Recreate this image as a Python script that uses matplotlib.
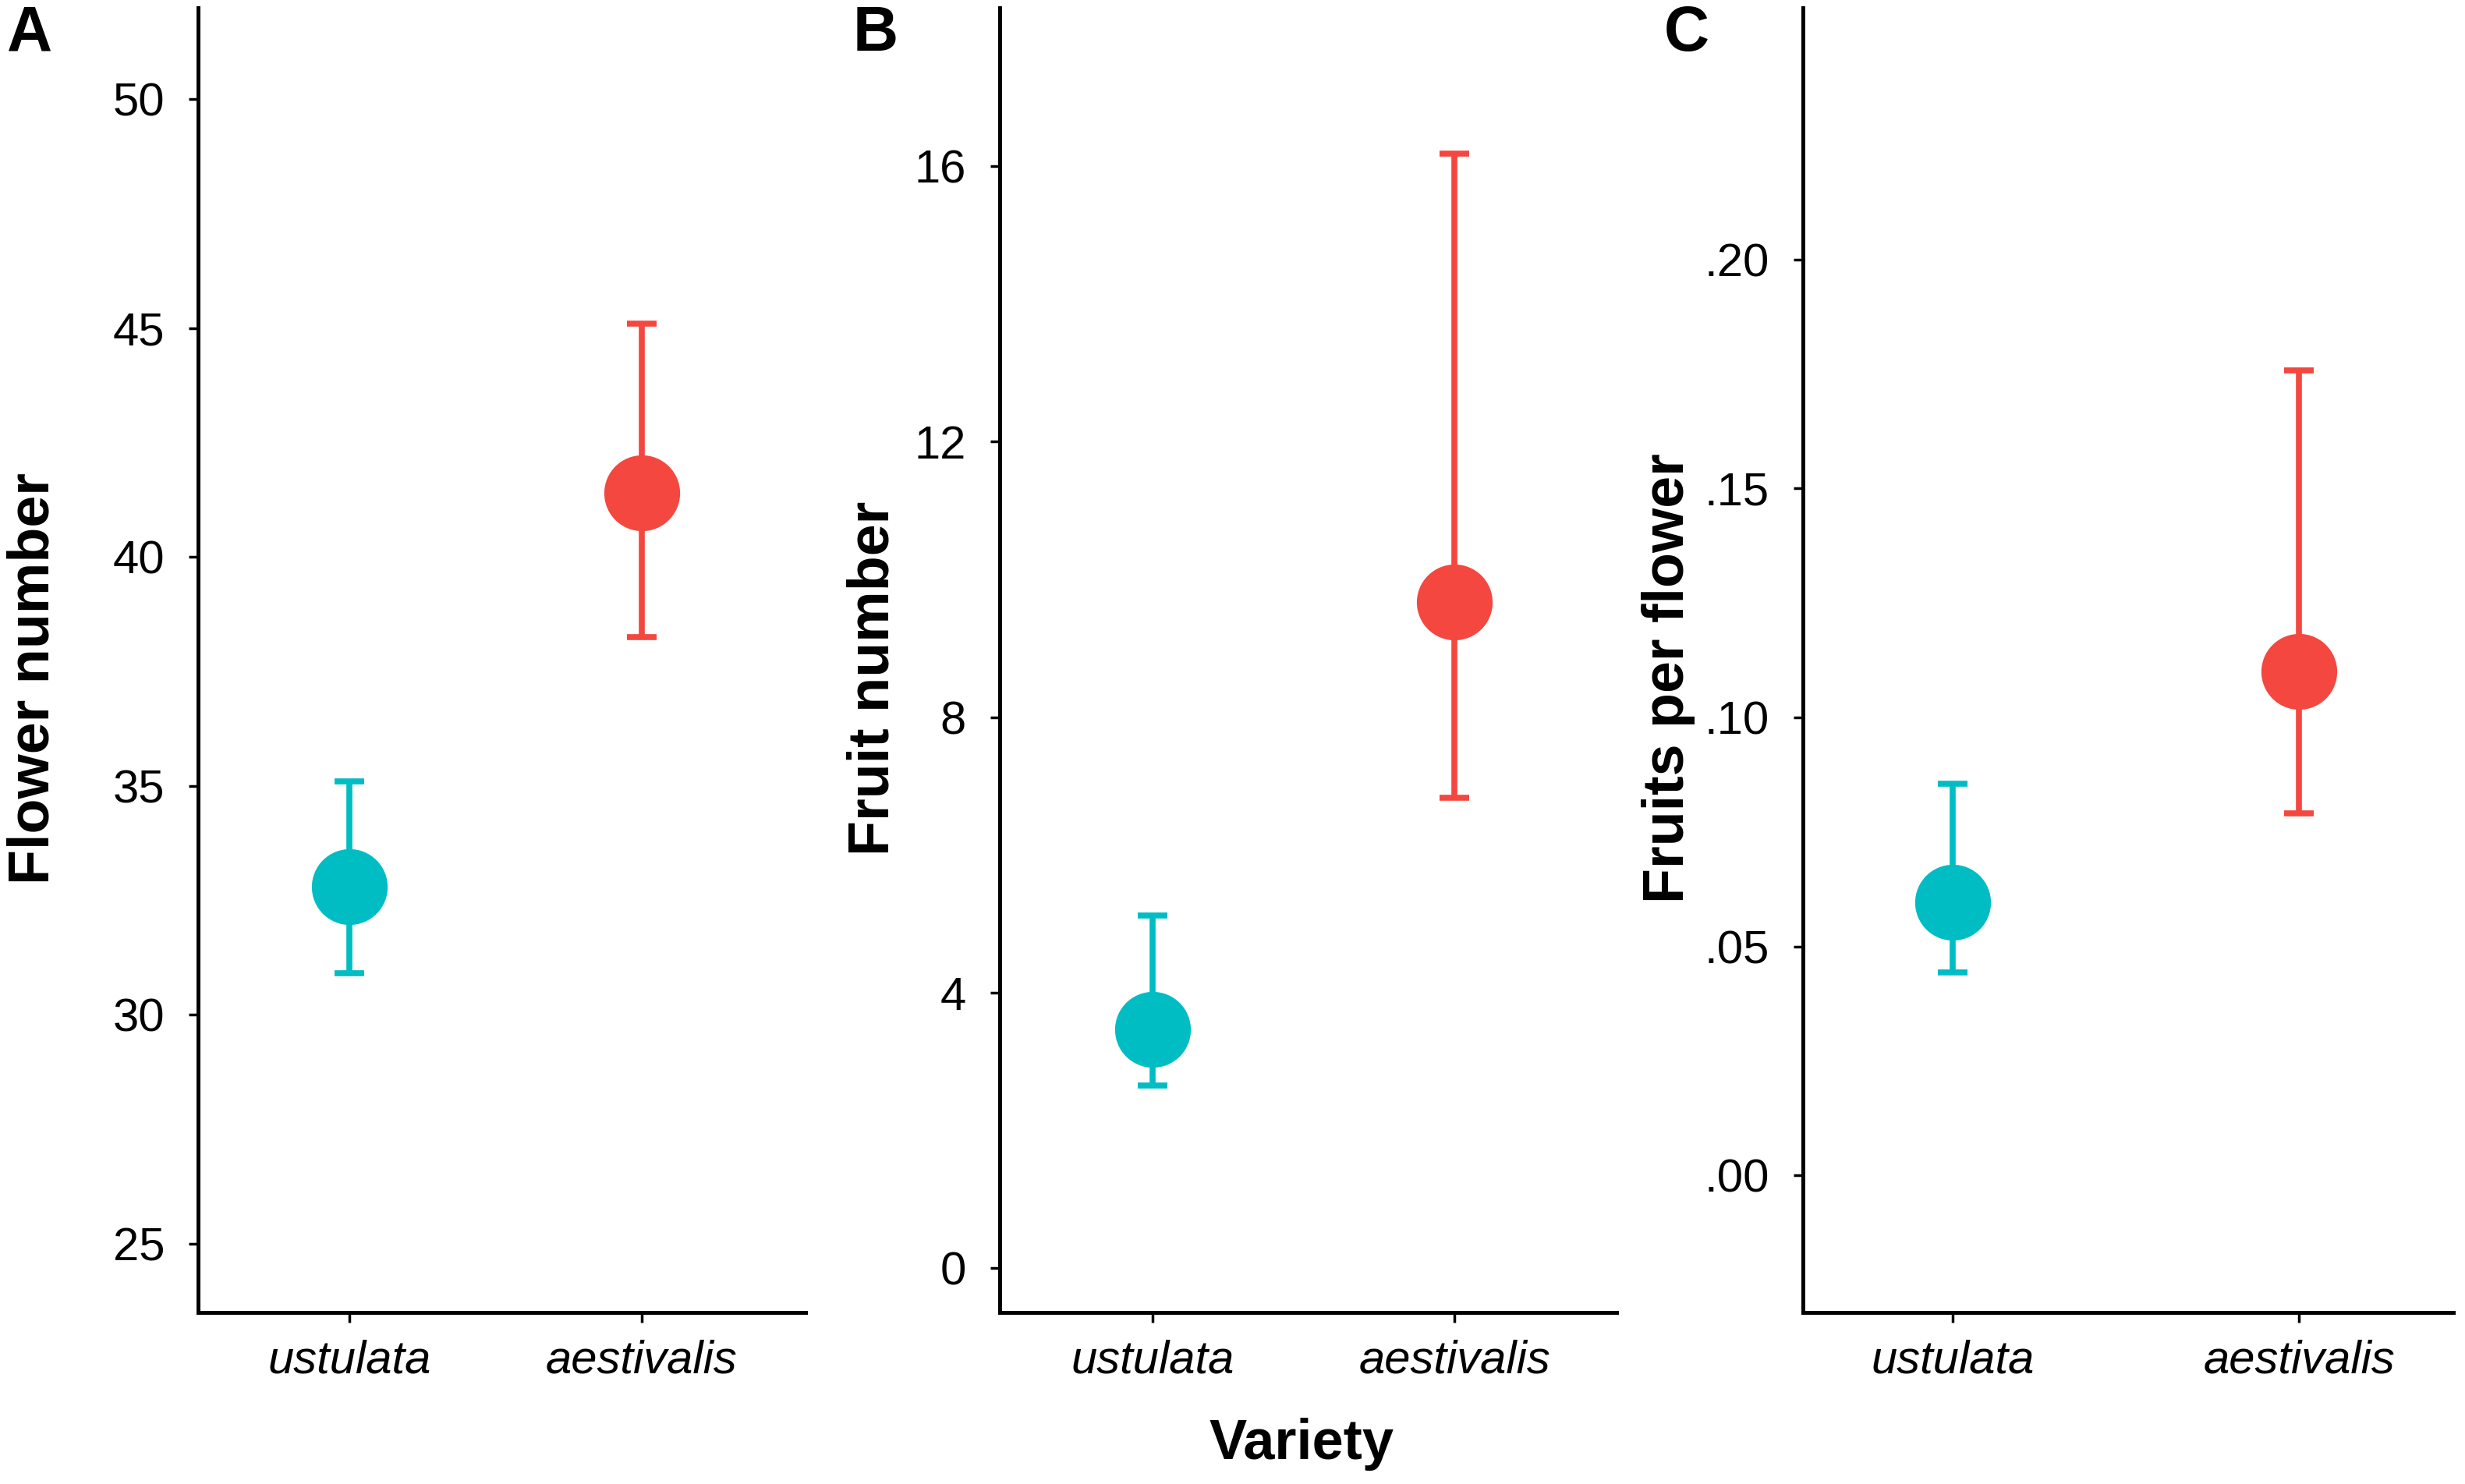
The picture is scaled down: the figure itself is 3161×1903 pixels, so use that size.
import matplotlib
matplotlib.use("Agg")
import matplotlib.pyplot as plt
from matplotlib.ticker import FixedLocator

varieties = ["ustulata", "aestivalis"]
colors = ["#00BDC4", "#F4473F"]

flower_mean = [32.8, 41.4]
flower_low = [30.9, 38.25]
flower_high = [35.1, 45.1]

fruit_mean = [3.47, 9.67]
fruit_low = [2.65, 6.83]
fruit_high = [5.12, 16.18]

fpf_mean = [0.0597, 0.110]
fpf_low = [0.0443, 0.0791]
fpf_high = [0.0855, 0.1757]

flower_ticks = [25, 30, 35, 40, 45, 50]
flower_ticklabels = ["25", "30", "35", "40", "45", "50"]
fruit_ticks = [0, 4, 8, 12, 16]
fruit_ticklabels = ["0", "4", "8", "12", "16"]
fpf_ticks = [0.00, 0.05, 0.10, 0.15, 0.20]
fpf_ticklabels = [".00", ".05", ".10", ".15", ".20"]

W, H = 3161, 1903
fig = plt.figure(figsize=(W / 100, H / 100), dpi=100)

sans = ["Liberation Sans", "DejaVu Sans"]

bottom = 0.1156
top = 0.995
panels = [
    dict(left=0.0804, width=0.2464, mean=flower_mean, low=flower_low, high=flower_high,
         ticks=flower_ticks, tl=flower_ticklabels, ylim=(23.5, 52.0), xlim=(0.484, 2.56),
         ylabel="Flower number", letter="A", lx=0.003, lpad=48),
    dict(left=0.4056, width=0.2502, mean=fruit_mean, low=fruit_low, high=fruit_high,
         ticks=fruit_ticks, tl=fruit_ticklabels, ylim=(-0.64, 18.3), xlim=(0.495, 2.536),
         ylabel="Fruit number", letter="B", lx=0.346, lpad=13),
    dict(left=0.7314, width=0.2638, mean=fpf_mean, low=fpf_low, high=fpf_high,
         ticks=fpf_ticks, tl=fpf_ticklabels, ylim=(-0.0299, 0.255), xlim=(0.568, 2.445),
         ylabel="Fruits per flower", letter="C", lx=0.675, lpad=8),
]

for p in panels:
    ax = fig.add_axes([p["left"], bottom, p["width"], top - bottom])
    xs = [1, 2]
    for i in range(2):
        m = p["mean"][i]
        ax.errorbar([xs[i]], [m],
                    yerr=[[m - p["low"][i]], [p["high"][i] - m]],
                    fmt="none", ecolor=colors[i],
                    elinewidth=5.5, capsize=14, capthick=5.5, zorder=2)
        ax.plot([xs[i]], [m], "o", color=colors[i], markersize=70,
                markeredgewidth=0, zorder=3)
    ax.set_xlim(*p["xlim"])
    ax.set_ylim(*p["ylim"])
    ax.yaxis.set_major_locator(FixedLocator(p["ticks"]))
    ax.set_yticklabels(p["tl"], fontsize=43, family=sans)
    ax.set_xticks(xs)
    ax.set_xticklabels(varieties, fontsize=43, style="italic", family=sans)
    for s in ["top", "right"]:
        ax.spines[s].set_visible(False)
    for s in ["left", "bottom"]:
        ax.spines[s].set_linewidth(3.6)
        ax.spines[s].set_color("black")
    ax.tick_params(axis="y", length=9, width=2.5, color="black", pad=22)
    ax.tick_params(axis="x", length=9, width=2.5, color="black", pad=16)
    ax.set_ylabel(p["ylabel"], fontsize=53, fontweight="bold", family=sans,
                  labelpad=p["lpad"], y=0.486, ha="center")
    fig.text(p["lx"], 0.977, p["letter"],
             fontsize=58, fontweight="bold", family=sans, va="center", ha="left")

fig.text(0.528, 0.027, "Variety", fontsize=52, fontweight="bold", family=sans,
         ha="center", va="center")

fig.savefig("out.png", dpi=100, facecolor="white")
